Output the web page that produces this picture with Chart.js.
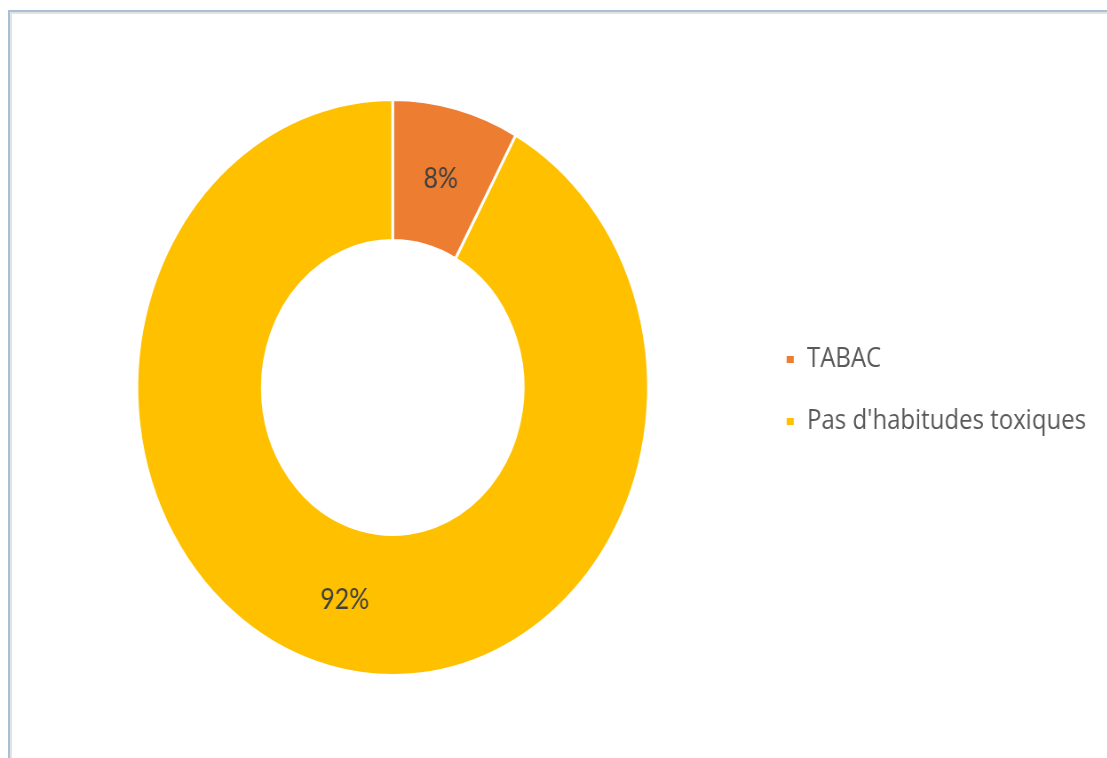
<!DOCTYPE html>
<html>
<head>
<meta charset="utf-8">
<script src="https://cdn.jsdelivr.net/npm/chart.js@4"></script>
<style>
  html, body { margin: 0; padding: 0; background: #ffffff; }
  body { width: 1107px; height: 758px; position: relative; overflow: hidden; }
  #stage {
    position: absolute; left: 0; top: 0;
    width: 1247px; height: 758px;
    transform: scaleX(0.888); transform-origin: 0 0;
  }
  .edge { position: absolute; }
  #frameTop { left: 8px; right: 0; top: 10px; height: 2px; background: #a9bfd6; }
  #frameLeft { left: 8px; top: 10px; bottom: 0; width: 2px; background: #a9bfd6; }
  #innerTop { left: 10px; right: 0; top: 12px; height: 2px; background: #e3e3e3; }
  #innerLeft { left: 10px; top: 12px; bottom: 0; width: 2px; background: #e3e3e3; }
</style>
</head>
<body>
<div id="stage"><canvas id="chart"></canvas></div>
<div class="edge" id="frameTop"></div>
<div class="edge" id="frameLeft"></div>
<div class="edge" id="innerTop"></div>
<div class="edge" id="innerLeft"></div>
<script>
const categories = ["TABAC", "Pas d'habitudes toxiques"];
const shares = [8, 92];
const sliceColors = ["#ED7D31", "#FFC000"];
const percentLabels = ["8%", "92%"];

const LABEL_FONT = "Lato, 'Open Sans', sans-serif";
const LEGEND_FONT = "'Open Sans', Lato, sans-serif";

// Writes the percentage of each slice at the middle of its ring segment
const sliceLabels = {
  id: 'sliceLabels',
  afterDatasetsDraw(chart) {
    const ctx = chart.ctx;
    const meta = chart.getDatasetMeta(0);
    ctx.save();
    ctx.font = "28px " + LABEL_FONT;
    ctx.fillStyle = "#404040";
    ctx.textAlign = "center";
    ctx.textBaseline = "middle";
    meta.data.forEach((arc, i) => {
      const p = arc.getCenterPoint();
      ctx.fillText(percentLabels[i], p.x, p.y + 2);
    });
    ctx.restore();
  }
};

new Chart(document.getElementById('chart'), {
  type: 'doughnut',
  data: {
    labels: categories,
    datasets: [{
      data: shares,
      backgroundColor: sliceColors,
      borderColor: "#ffffff",
      borderWidth: 3,
      hoverOffset: 0
    }]
  },
  options: {
    responsive: true,
    maintainAspectRatio: false,
    animation: false,
    cutout: '51%',
    layout: { padding: { left: 35, right: 14, top: 98, bottom: 81 } },
    plugins: {
      tooltip: { enabled: false },
      legend: {
        position: 'right',
        align: 'center',
        // empty title only pushes the entries a little lower
        title: { display: true, text: '', padding: 0, font: { size: 6, lineHeight: 1 } },
        labels: {
          boxWidth: 11,
          boxHeight: 10,
          padding: 35,
          color: "#595959",
          font: { size: 27, family: LEGEND_FONT }
        }
      }
    }
  },
  plugins: [sliceLabels]
});
</script>
</body>
</html>
